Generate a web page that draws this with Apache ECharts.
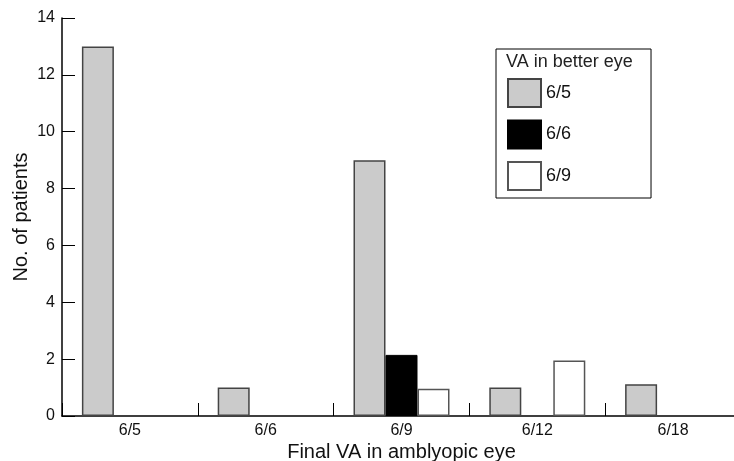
<!DOCTYPE html>
<html>
<head>
<meta charset="utf-8">
<script src="https://cdn.jsdelivr.net/npm/echarts@6/dist/echarts.min.js"></script>
<style>html,body{margin:0;padding:0;background:#fff}#c{width:734px;height:461px}</style>
</head>
<body>
<div id="c"></div>
<script>
var categories = ['6/5', '6/6', '6/9', '6/12', '6/18'];
var seriesNames = ['6/5', '6/6', '6/9'];
var better65 = [13, 1, 9, 1, 1.12];
var better66 = [null, null, 2.15, null, null];
var better69 = [null, null, 0.96, 1.95, null];
var yTicks = { min: 0, max: 14, interval: 2 };

var FONT = 'Liberation Sans, Arial, Helvetica, sans-serif';
var chart = echarts.init(document.getElementById('c'));
chart.setOption({
  animation: false,
  backgroundColor: '#fff',
  textStyle: { fontFamily: FONT },
  title: {
    text: 'VA in better eye',
    left: 506, top: 53,
    padding: 0,
    textStyle: { fontFamily: FONT, fontSize: 18, fontWeight: 'normal', color: '#222' }
  },
  legend: {
    orient: 'vertical',
    left: 496, top: 49,
    padding: [29, 80, 7, 11],
    itemWidth: 33, itemHeight: 28,
    itemGap: 11.5,
    itemTextGap: 7,
    borderColor: '#000', borderWidth: 1,
    icon: 'rect',
    data: seriesNames,
    textStyle: { fontFamily: FONT, fontSize: 18, color: '#111' }
  },
  grid: { left: 62, width: 679, top: 18, bottom: 45, containLabel: false, outerBoundsMode: 'none' },
  xAxis: {
    type: 'category',
    data: categories,
    name: 'Final VA in amblyopic eye',
    nameLocation: 'middle',
    nameGap: 26,
    nameMoveOverlap: false,
    nameTextStyle: { fontFamily: FONT, fontSize: 20, color: '#111' },
    axisLine: { show: true, lineStyle: { color: '#000', width: 1.5 } },
    axisTick: { show: true, inside: true, length: 13, interval: 0, alignWithLabel: false, lineStyle: { color: '#000', width: 1 } },
    axisLabel: { fontFamily: FONT, fontSize: 16, color: '#111', margin: 7, interval: 0 }
  },
  yAxis: {
    type: 'value',
    min: yTicks.min, max: yTicks.max, interval: yTicks.interval,
    name: 'No. of patients',
    nameLocation: 'middle',
    nameGap: 31,
    nameMoveOverlap: false,
    nameTextStyle: { fontFamily: FONT, fontSize: 20, color: '#111' },
    axisLine: { show: true, lineStyle: { color: '#000', width: 1.5 } },
    axisTick: { show: true, inside: true, length: 13, lineStyle: { color: '#000', width: 1 } },
    axisLabel: { fontFamily: FONT, fontSize: 16, color: '#111', margin: 7 },
    splitLine: { show: false }
  },
  series: [
    { name: seriesNames[0], type: 'bar', data: better65, barWidth: 32, barGap: '0%',
      itemStyle: { color: '#cbcbcb', borderColor: '#444', borderWidth: 1.5 } },
    { name: seriesNames[1], type: 'bar', data: better66, barWidth: 32, barGap: '0%',
      itemStyle: { color: '#000', borderColor: '#000', borderWidth: 1 } },
    { name: seriesNames[2], type: 'bar', data: better69, barWidth: 32, barGap: '0%',
      itemStyle: { color: '#fff', borderColor: '#555', borderWidth: 1.5 } }
  ]
});
</script>
</body>
</html>
